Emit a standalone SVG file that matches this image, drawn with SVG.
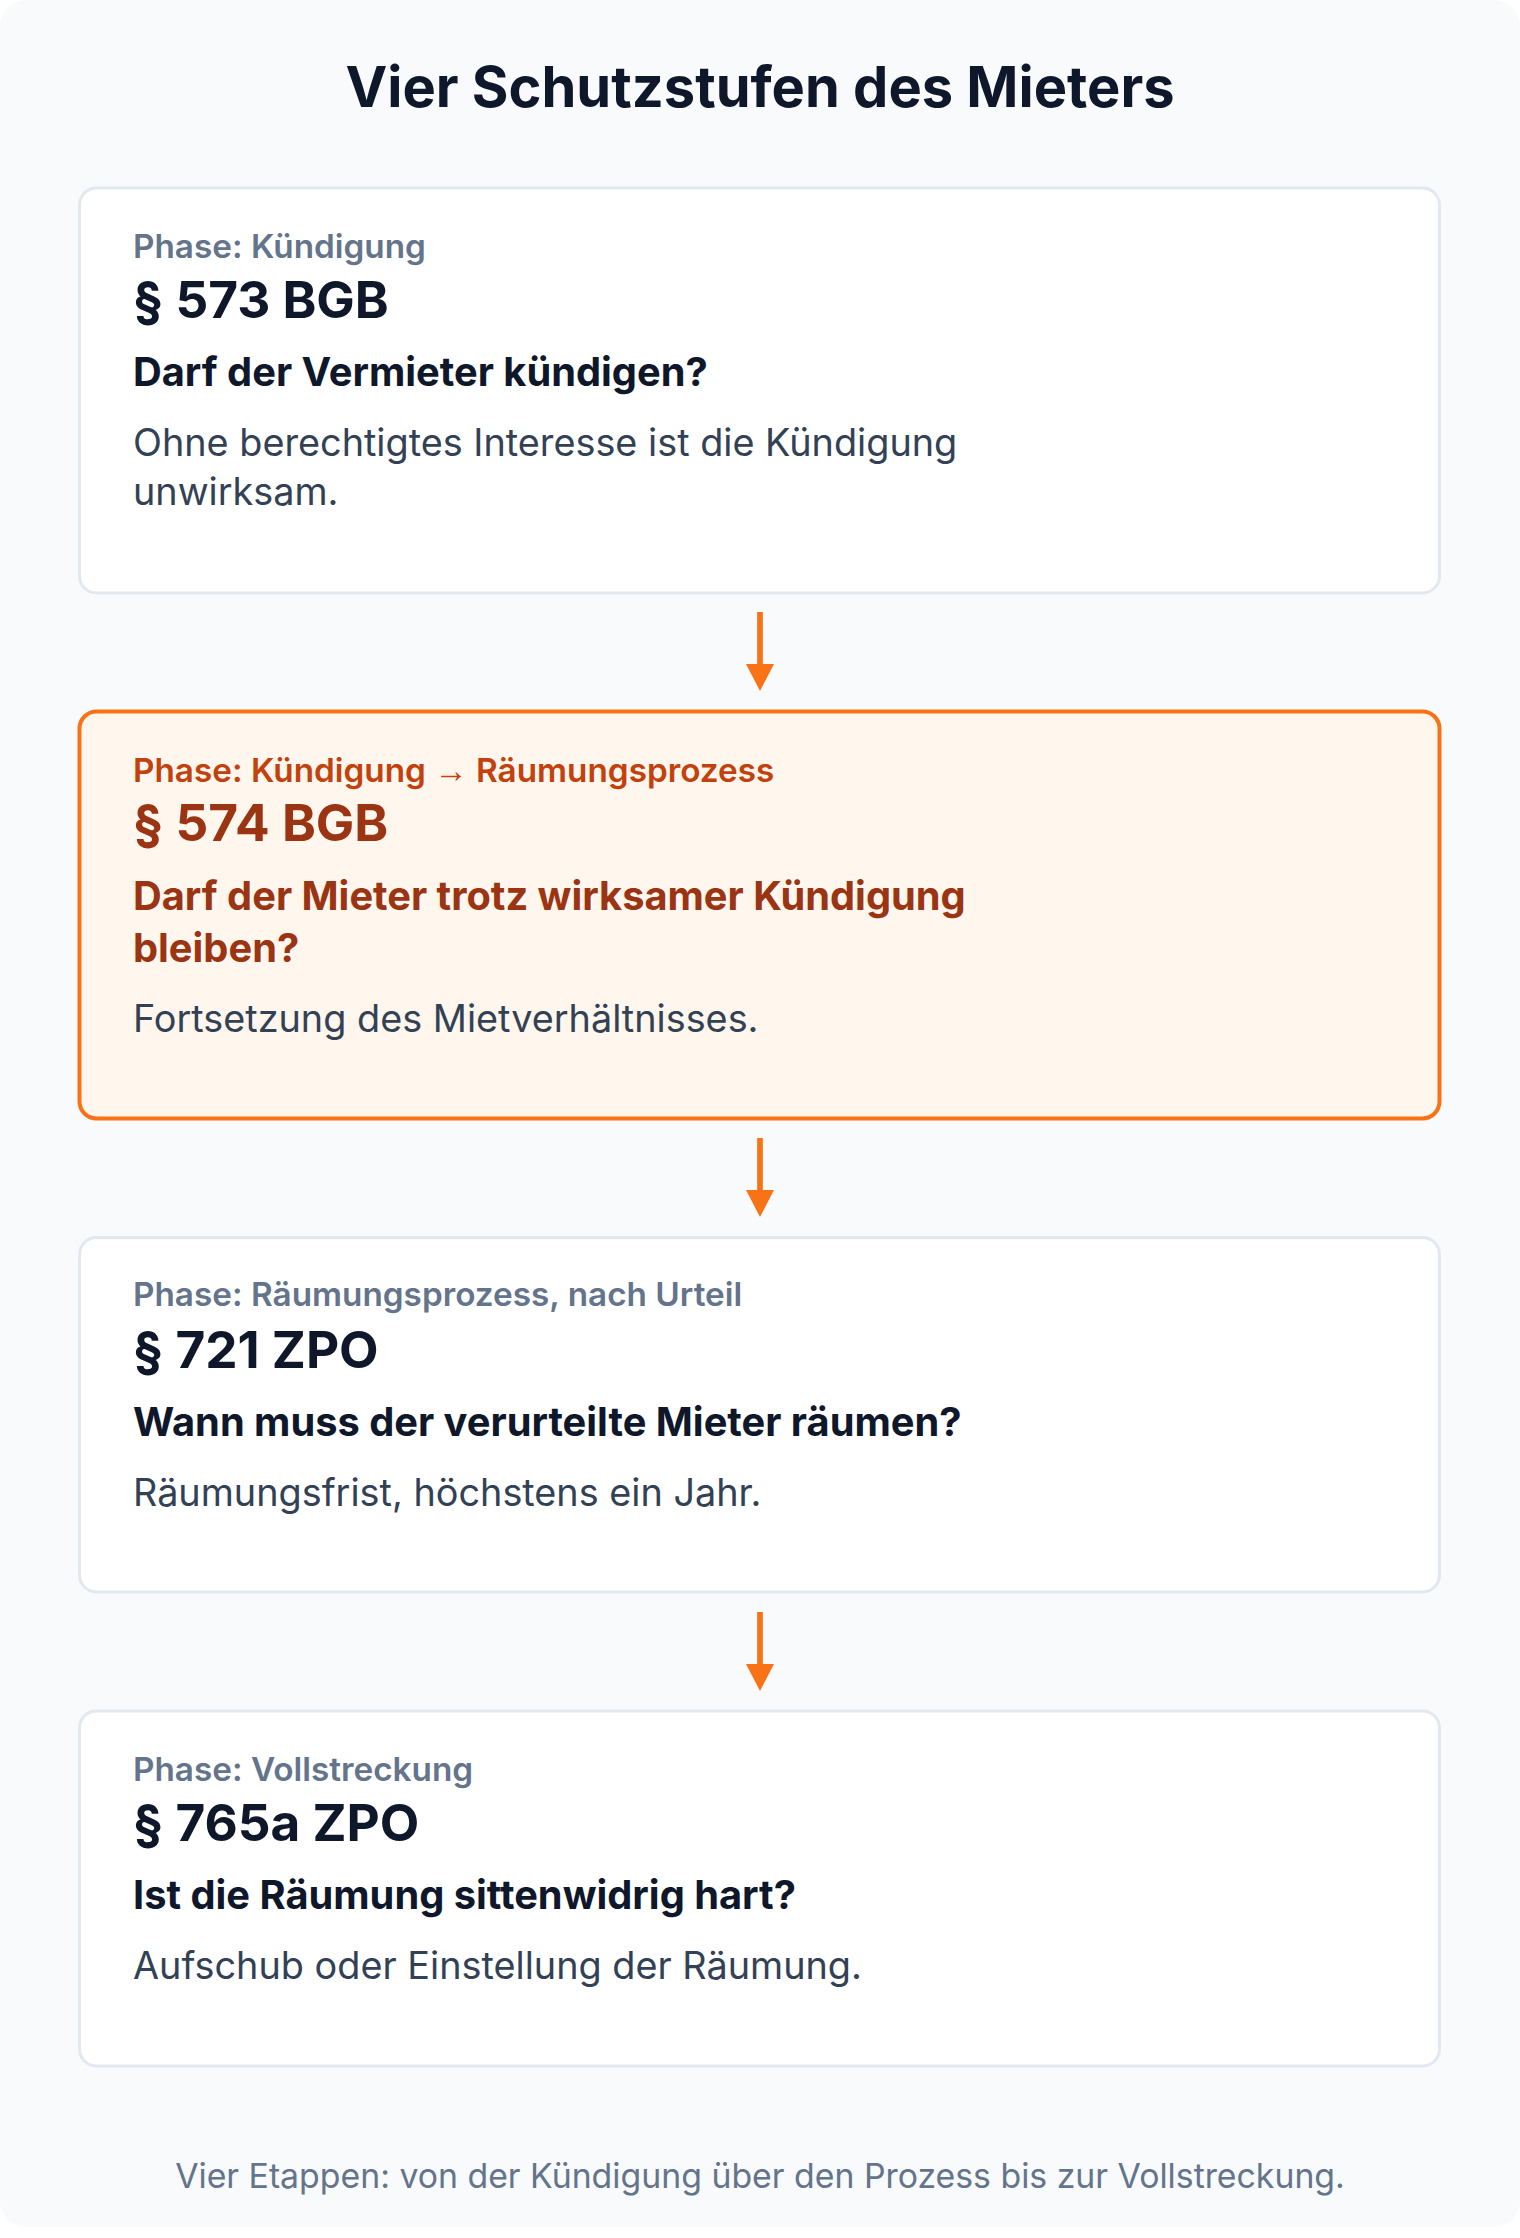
<svg xmlns="http://www.w3.org/2000/svg" width="1520" height="2238" viewBox="0 0 1520 2238">
  <defs>
    <style>
      text { font-family: Inter, "Noto Sans", "Liberation Sans", sans-serif; }
      .title { font-size: 56px; font-weight: 700; fill: #0f172a; }
      .card { fill: #ffffff; stroke: #e2e8f0; stroke-width: 3; }
      .card-hl { fill: #fff7ed; stroke: #f97316; stroke-width: 4; }
      .phase { font-size: 33.3px; font-weight: 600; fill: #64748b; }
      .law { font-size: 51.3px; font-weight: 700; fill: #0f172a; }
      .q { font-size: 39.8px; font-weight: 700; fill: #0f172a; }
      .body { font-size: 37.8px; font-weight: 400; fill: #334155; }
      .hl-phase { fill: #c2410c; }
      .hl-text { fill: #9a3412; }
      .arr { font-family: "Liberation Sans", sans-serif; font-weight: 400; }
      .foot { font-size: 33.8px; font-weight: 400; fill: #64748b; }
      .conn { stroke: #f97316; stroke-width: 5.7; fill: none; }
    </style>
    <marker id="arrow" viewBox="0 0 27 28" refX="0" refY="14" markerWidth="27" markerHeight="28" markerUnits="userSpaceOnUse" orient="auto">
      <path d="M0,0 L27,14 L0,28 Z" fill="#f97316"/>
    </marker>
  </defs>
  <rect x="0" y="0" width="1520" height="2238" fill="#ffffff"/>
  <rect x="0" y="0" width="1520" height="2227" rx="26" fill="#f8fafc"/>
  <text class="title" x="760" y="107" text-anchor="middle">Vier Schutzstufen des Mieters</text>

  <g id="node-573">
    <rect class="card" x="79.5" y="188" width="1360" height="405" rx="17"/>
    <text class="phase" x="133" y="258">Phase: Kündigung</text>
    <text class="law" x="133" y="318">§ 573 BGB</text>
    <text class="q" x="133" y="386">Darf der Vermieter kündigen?</text>
    <text class="body" x="133" y="456">Ohne berechtigtes Interesse ist die Kündigung</text>
    <text class="body" x="133" y="505">unwirksam.</text>
  </g>

  <g id="node-574">
    <rect class="card-hl" x="79.5" y="711.5" width="1360" height="407" rx="17"/>
    <text class="phase hl-phase" x="133" y="782">Phase: Kündigung <tspan class="arr">→</tspan> Räumungsprozess</text>
    <text class="law hl-text" x="133" y="841">§ 574 BGB</text>
    <text class="q hl-text" x="133" y="910">Darf der Mieter trotz wirksamer Kündigung</text>
    <text class="q hl-text" x="133" y="962">bleiben?</text>
    <text class="body" x="133" y="1032">Fortsetzung des Mietverhältnisses.</text>
  </g>

  <g id="node-721">
    <rect class="card" x="79.5" y="1237.5" width="1360" height="354.5" rx="17"/>
    <text class="phase" x="133" y="1306">Phase: Räumungsprozess, nach Urteil</text>
    <text class="law" x="133" y="1368">§ 721 ZPO</text>
    <text class="q" x="133" y="1436">Wann muss der verurteilte Mieter räumen?</text>
    <text class="body" x="133" y="1506">Räumungsfrist, höchstens ein Jahr.</text>
  </g>

  <g id="node-765a">
    <rect class="card" x="79.5" y="1711" width="1360" height="355" rx="17"/>
    <text class="phase" x="133" y="1781">Phase: Vollstreckung</text>
    <text class="law" x="133" y="1841">§ 765a ZPO</text>
    <text class="q" x="133" y="1909">Ist die Räumung sittenwidrig hart?</text>
    <text class="body" x="133" y="1979">Aufschub oder Einstellung der Räumung.</text>
  </g>

  <g id="connectors">
    <line class="conn" x1="760" y1="612" x2="760" y2="664" marker-end="url(#arrow)"/>
    <line class="conn" x1="760" y1="1138" x2="760" y2="1190" marker-end="url(#arrow)"/>
    <line class="conn" x1="760" y1="1612" x2="760" y2="1664" marker-end="url(#arrow)"/>
  </g>

  <text class="foot" x="760" y="2188" text-anchor="middle">Vier Etappen: von der Kündigung über den Prozess bis zur Vollstreckung.</text>
</svg>
